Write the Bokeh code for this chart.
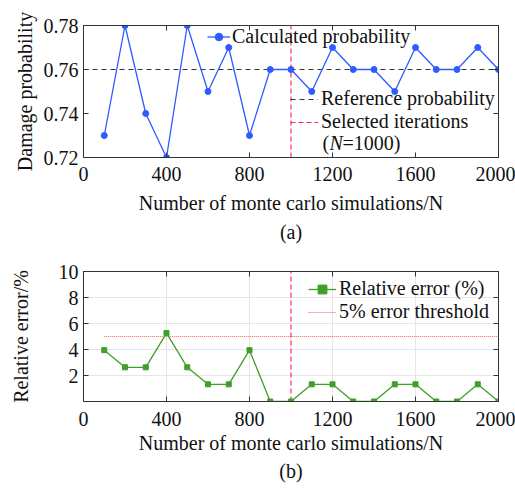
from bokeh.plotting import figure
from bokeh.layouts import column
from bokeh.models import Range1d, FixedTicker, LinearAxis, Legend, LegendItem, Label, Title
from bokeh.embed import file_html
from bokeh.resources import INLINE

# ---------------- data ----------------
n_sims = [100, 200, 300, 400, 500, 600, 700, 800, 900, 1000,
          1100, 1200, 1300, 1400, 1500, 1600, 1700, 1800, 1900, 2000]
damage_prob = [0.73, 0.78, 0.74, 0.72, 0.78, 0.75, 0.77, 0.73, 0.76, 0.76,
               0.75, 0.77, 0.76, 0.76, 0.75, 0.77, 0.76, 0.76, 0.77, 0.76]
rel_error = [3.95, 2.63, 2.63, 5.26, 2.63, 1.32, 1.32, 3.95, 0.0, 0.0,
             1.32, 1.32, 0.0, 0.0, 1.32, 1.32, 0.0, 0.0, 1.32, 0.0]
reference_prob = 0.76
selected_n = 1000
error_threshold = 5
x_ticks = [0, 400, 800, 1200, 1600, 2000]
y1_ticks = [0.72, 0.74, 0.76, 0.78]
y2_ticks = [2, 4, 6, 8, 10]

FONT = "Liberation Serif"
FS = "20px"
AX = "#333333"
BLUE = "#2d5bff"
GREEN = "#3f9f28"
RED = "#ff2a5a"
RED2 = "#ff5a5a"


def style_axis(ax, ticks, labels=True):
    ax.major_tick_in = 5
    ax.major_tick_out = 0
    ax.minor_tick_in = 0
    ax.minor_tick_out = 0
    ax.axis_line_color = AX
    ax.major_tick_line_color = AX
    ax.major_label_text_font = FONT
    ax.major_label_text_font_size = FS
    ax.major_label_text_color = "#111111"
    ax.major_label_standoff = 5
    if not labels:
        ax.major_label_overrides = {t: "" for t in ticks}
        ax.major_label_standoff = 0
    ax.axis_label_text_font = FONT
    ax.axis_label_text_font_size = FS
    ax.axis_label_text_font_style = "normal"
    ax.axis_label_text_color = "#111111"


def make_fig(h, top, bottom, ylo, yhi, xt, yt, ylabel):
    p = figure(width=515, height=h, output_backend="svg", toolbar_location=None,
               x_range=Range1d(xt[0], xt[-1]), y_range=Range1d(ylo, yhi),
               min_border_left=83, min_border_right=17,
               min_border_top=top, min_border_bottom=bottom)
    p.outline_line_color = AX
    p.outline_line_alpha = 1
    p.background_fill_color = "white"
    p.border_fill_color = "white"
    xa = p.below[0]
    ya = p.left[0]
    xa.ticker = FixedTicker(ticks=xt)
    ya.ticker = FixedTicker(ticks=yt)
    style_axis(xa, xt)
    style_axis(ya, yt)
    xa.axis_label = "Number of monte carlo simulations/N"
    ya.axis_label = ylabel
    ax_top = LinearAxis(ticker=FixedTicker(ticks=xt))
    style_axis(ax_top, xt, labels=False)
    ax_right = LinearAxis(ticker=FixedTicker(ticks=yt))
    style_axis(ax_right, yt, labels=False)
    p.add_layout(ax_top, "above")
    p.add_layout(ax_right, "right")
    return p, xa, ya


def make_legend(items, loc, gw=33, lh=19, standoff=3):
    lg = Legend(items=items, location=loc)
    lg.label_text_font = FONT
    lg.label_text_font_size = FS
    lg.label_text_color = "#111111"
    lg.background_fill_alpha = 0
    lg.border_line_color = None
    lg.glyph_width = gw
    lg.glyph_height = lh
    lg.label_height = lh
    lg.label_standoff = standoff
    lg.spacing = 0
    lg.padding = 0
    lg.margin = 0
    return lg


# ---------------- (a) ----------------
p1, xa1, ya1 = make_fig(248, 25, 91, y1_ticks[0], y1_ticks[-1], x_ticks, y1_ticks,
                        "Damage probability")
p1.xgrid.visible = False
p1.ygrid.visible = False
ya1.axis_label_standoff = 5
xa1.major_label_standoff = 9
xa1.axis_label_standoff = 8

r_ref = p1.line([x_ticks[0], x_ticks[-1]], [reference_prob, reference_prob],
                line_color="#333333", line_width=1.2, line_dash="5 4")
r_sel = p1.line([selected_n, selected_n], [y1_ticks[0], y1_ticks[-1]],
                line_color=RED, line_width=1.2, line_dash="5 3")
r_l1 = p1.line(n_sims, damage_prob, line_color=BLUE, line_width=1.3)
r_m1 = p1.scatter(n_sims, damage_prob, size=6, marker="circle",
                  fill_color=BLUE, line_color=BLUE)

p1.add_layout(make_legend([LegendItem(label="Calculated probability",
                                      renderers=[r_l1, r_m1])], (124, 109),
                          gw=23, standoff=2), "center")
p1.add_layout(make_legend([LegendItem(label="Reference probability", renderers=[r_ref]),
                           LegendItem(label="Selected iterations", renderers=[r_sel])],
                          (207, 24), gw=28, lh=20), "center")

for txt, off, style in [("(", 0, "normal"), ("N", 7, "italic"), ("=1000)", 20, "normal")]:
    p1.add_layout(Label(x=1152, y=0.7268, x_offset=off, text=txt, text_font=FONT,
                        text_font_size=FS, text_font_style=style,
                        text_color="#111111", text_baseline="middle"))

p1.add_layout(Title(text="(a)", align="center", text_font=FONT, text_font_size=FS,
                    text_font_style="normal", text_color="#111111", standoff=4), "below")

# ---------------- (b) ----------------
p2, xa2, ya2 = make_fig(240, 23, 87, 0, y2_ticks[-1], x_ticks, y2_ticks,
                        "Relative error/%")
p2.xgrid.grid_line_color = "#e6e6e6"
p2.ygrid.grid_line_color = "#e6e6e6"
ya2.axis_label_standoff = 24
xa2.major_label_standoff = 10
xa2.axis_label_standoff = 3

r_thr = p2.line([n_sims[0], n_sims[-1]], [error_threshold, error_threshold],
                line_color=RED2, line_width=1.2, line_dash="1 1")
p2.line([selected_n, selected_n], [0, y2_ticks[-1]],
        line_color=RED, line_width=1.2, line_dash="5 3")
r_l2 = p2.line(n_sims, rel_error, line_color=GREEN, line_width=1.3)
r_m2 = p2.scatter(n_sims, rel_error, size=5, marker="square",
                  fill_color=GREEN, line_color=GREEN)

p2.add_layout(make_legend([LegendItem(label="Relative error (%)", renderers=[r_l2, r_m2]),
                           LegendItem(label="5% error threshold", renderers=[r_thr])],
                          (225, 78), gw=28, lh=22), "center")

p2.add_layout(Title(text="(b)", align="center", text_font=FONT, text_font_size=FS,
                    text_font_style="normal", text_color="#111111", standoff=2), "below")

layout = column(p1, p2, spacing=0)
open("out.html", "w").write(file_html(layout, INLINE))
